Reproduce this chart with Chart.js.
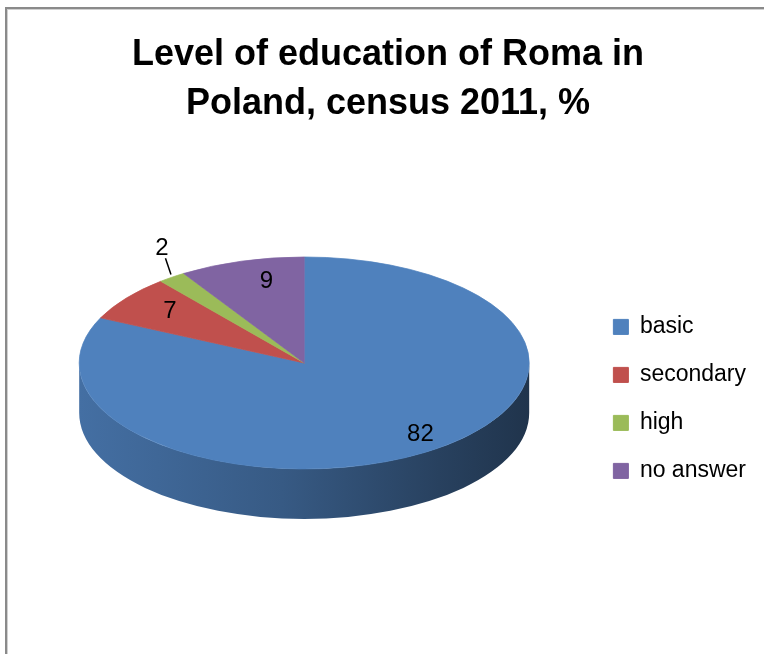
<!DOCTYPE html>
<html>
<head>
<meta charset="utf-8">
<script src="https://cdn.jsdelivr.net/npm/chart.js@4/dist/chart.umd.min.js"></script>
<style>
  body { margin: 0; background: #fff; }
  canvas { display: block; }
</style>
</head>
<body>
<canvas id="pie" width="764" height="654"></canvas>
<script>
// census 2011 shares, %
const levels = ['basic', 'secondary', 'high', 'no answer']
const shares = [82, 7, 2, 9]

const sliceColors = ['#4F81BD', '#C0504D', '#9BBB59', '#8064A2']

const tilt = 0.471   // vertical squash of the disc
const depth = 50     // thickness of the disc side

function shade(hex, f) {
    var n = parseInt(hex.slice(1), 16)
    var r = Math.round(((n >> 16) & 255) * f)
    var g = Math.round(((n >> 8) & 255) * f)
    var b = Math.round((n & 255) * f)
    return 'rgb(' + r + ',' + g + ',' + b + ')'
}

// frame line at the top and on the left
const frame = {
    id: 'frame',
    beforeDraw(chart) {
        const ctx = chart.ctx
        ctx.save()
        ctx.fillStyle = '#8a8a8a'
        ctx.fillRect(5, 7, chart.width, 2)
        ctx.fillRect(5, 7, 2, chart.height)
        ctx.fillStyle = '#d0d0d0'
        ctx.fillRect(7, 9, chart.width, 1)
        ctx.fillRect(7, 9, 1, chart.height)
        ctx.restore()
    }
}

// draws the side of the disc, then squashes the slices into an ellipse
const disc = {
    id: 'disc',
    beforeDatasetsDraw(chart) {
        const ctx = chart.ctx
        const meta = chart.getDatasetMeta(0)
        var cy = 0
        meta.data.forEach((arc, i) => {
            const p = arc.getProps(['x', 'y', 'startAngle', 'endAngle', 'outerRadius'], true)
            cy = p.y
            const a0 = Math.max(p.startAngle, 0)
            const a1 = Math.min(p.endAngle, Math.PI)
            if (a0 >= a1) return
            const r = p.outerRadius
            const base = sliceColors[i]
            const grad = ctx.createLinearGradient(p.x - r, 0, p.x + r, 0)
            grad.addColorStop(0, shade(base, 0.86))
            grad.addColorStop(0.45, shade(base, 0.7))
            grad.addColorStop(0.8, shade(base, 0.5))
            grad.addColorStop(1, shade(base, 0.4))
            ctx.save()
            ctx.fillStyle = grad
            ctx.beginPath()
            ctx.ellipse(p.x, p.y, r, r * tilt, 0, a0, a1)
            ctx.ellipse(p.x, p.y + depth, r, r * tilt, 0, a1, a0, true)
            ctx.closePath()
            ctx.fill()
            ctx.restore()
        })
        ctx.save()
        ctx.translate(0, cy)
        ctx.scale(1, tilt)
        ctx.translate(0, -cy)
    },
    afterDatasetsDraw(chart) {
        chart.ctx.restore()
    }
}

// value labels, small slices get a leader line outside the disc
const valueLabels = {
    id: 'valueLabels',
    afterDatasetsDraw(chart) {
        const ctx = chart.ctx
        const meta = chart.getDatasetMeta(0)
        ctx.save()
        ctx.font = '24px "Liberation Sans"'
        ctx.fillStyle = '#000'
        ctx.strokeStyle = '#000'
        ctx.lineWidth = 1.5
        ctx.textAlign = 'center'
        ctx.textBaseline = 'middle'
        meta.data.forEach((arc, i) => {
            const p = arc.getProps(['x', 'y', 'startAngle', 'endAngle', 'outerRadius'], true)
            const mid = (p.startAngle + p.endAngle) / 2
            const c = Math.cos(mid), s = Math.sin(mid)
            const r = p.outerRadius
            const value = shares[i]
            if (value >= 5) {
                // labels sit a little right of the slice centre line
                ctx.fillText(value, p.x + c * r * 0.84 + 15, p.y + s * r * tilt * 0.8)
                return
            }
            const rx = p.x + c * r, ry = p.y + s * r * tilt
            var nx = c * tilt, ny = s
            const len = Math.hypot(nx, ny)
            nx /= len
            ny /= len
            ctx.beginPath()
            ctx.moveTo(rx + nx * 3, ry + ny * 3)
            ctx.lineTo(rx + nx * 20, ry + ny * 20)
            ctx.stroke()
            ctx.fillText(value, rx + nx * 31, ry + ny * 31)
        })
        ctx.restore()
    }
}

Chart.defaults.font.family = '"Liberation Sans", Arial, sans-serif'
Chart.defaults.color = '#000'

var ctx = document.getElementById('pie').getContext('2d')
var myChart = new Chart(ctx, {
    type: 'pie',
    data: {
        labels: levels,
        datasets: [{
            data: shares,
            backgroundColor: sliceColors,
            borderColor: sliceColors,
            borderWidth: 1,
            radius: 225,
            clip: false
        }]
    },
    options: {
        responsive: false,
        animation: false,
        layout: {
            padding: { left: 20, right: 8, top: 0, bottom: 78 }
        },
        plugins: {
            title: {
                display: true,
                text: ['Level of education of Roma in', 'Poland, census 2011, %'],
                font: { size: 36, weight: 'bold', lineHeight: 1.36 },
                color: '#000',
                padding: { top: 31, bottom: 21 }
            },
            legend: {
                position: 'right',
                align: 'start',
                maxWidth: 176,
                // empty title only pushes the items down
                title: {
                    display: true,
                    text: '',
                    padding: { top: 276, bottom: 0 }
                },
                labels: {
                    boxWidth: 15,
                    boxHeight: 15,
                    padding: 25,
                    font: { size: 23 },
                    color: '#000'
                }
            },
            tooltip: { enabled: false }
        }
    },
    plugins: [frame, disc, valueLabels]
})
</script>
</body>
</html>
